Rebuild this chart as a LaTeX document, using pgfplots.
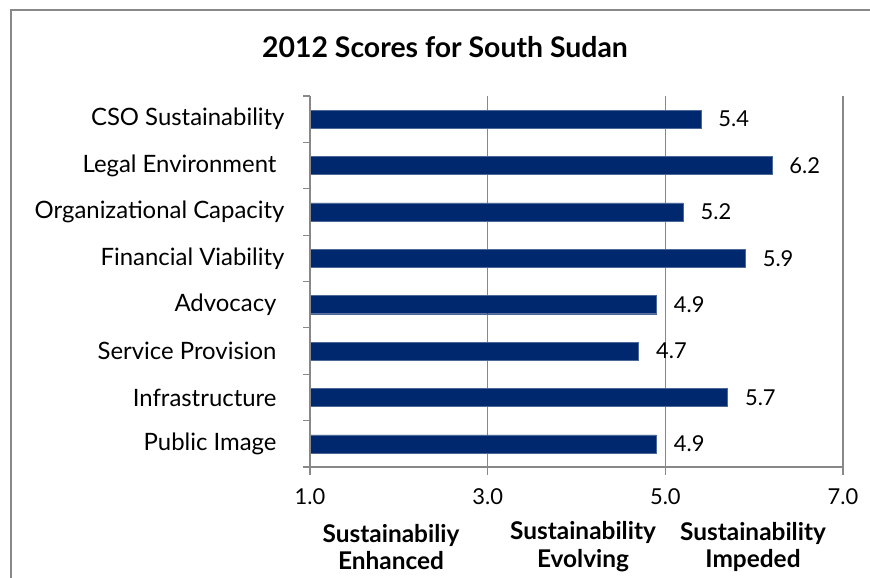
\documentclass[border=0pt]{standalone}
\usepackage{fontspec}
\setmainfont{Lato}
\usepackage{pgfplots}
\pgfplotsset{compat=1.18}
\definecolor{barblue}{RGB}{0,40,110}
\definecolor{framegray}{RGB}{136,136,136}
\newcommand{\tsp}{\rule{8bp}{0pt}}
\begin{document}
\begin{tikzpicture}[x=1bp,y=1bp]
\path[use as bounding box] (0,0) rectangle (870,578);
\draw[framegray, line width=2bp] (11,-10) -- (11,568) -- (880,568);
\node[font=\fontsize{28.5}{32}\selectfont\bfseries] at (445,531) {2012 Scores for South Sudan};
\begin{axis}[
  at={(310bp,111bp)}, anchor=south west,
  scale only axis, width=533bp, height=371bp,
  xmin=1, xmax=7, ymin=-0.5, ymax=7.5,
  axis line style={draw=none},
  axis x line*=bottom, axis y line*=left,
  xtick={1,3,5,7},
  xticklabels={1.0,3.0,5.0,7.0},
  xmajorgrids, grid style={framegray, line width=1.2bp},
  ytick={0,...,7},
  yticklabels={Public Image\tsp,Infrastructure\tsp,Service Provision\tsp,Advocacy\tsp,Financial Viability,Organizational Capacity,Legal Environment\tsp,CSO Sustainability},
  minor ytick={-0.5,0.5,...,7.5},
  tick align=outside,
  major tick length=8bp,
  minor tick length=7bp,
  tick style={framegray, line width=1.2bp},
  major y tick style={draw=none},
  yticklabel style={font=\fontsize{24}{27}\selectfont, text=black, xshift=-14bp},
  xticklabel style={font=\fontsize{22}{25}\selectfont, text=black, yshift=-10bp},
  /pgf/number format/assume math mode=true,
  clip=false,
  xbar, bar width=0.39,
  nodes near coords={\pgfmathprintnumber[fixed,fixed zerofill,precision=1]{\pgfplotspointmeta}},
  nodes near coords style={font=\fontsize{22}{25}\selectfont, text=black, xshift=14bp},
  point meta=x,
]
\addplot[fill=barblue, draw=barblue!70!white, line width=0.4bp] coordinates {
(4.9,0) (5.7,1) (4.7,2) (4.9,3) (5.9,4) (5.2,5) (6.2,6) (5.4,7)
};
\draw[framegray, line width=1.2bp] (axis cs:1,-0.5) -- (axis cs:1,7.5);
\draw[framegray, line width=1.2bp] (axis cs:1,-0.5) -- (axis cs:7,-0.5);
\end{axis}
\node[font=\fontsize{24.5}{28}\selectfont\bfseries, align=center] at (391,31) {Sustainabiliy\\Enhanced};
\node[font=\fontsize{24.5}{28}\selectfont\bfseries, align=center] at (583,31) {Sustainability\\Evolving};
\node[font=\fontsize{24.5}{28}\selectfont\bfseries, align=center] at (753,31) {Sustainability\\Impeded};
\end{tikzpicture}
\end{document}
